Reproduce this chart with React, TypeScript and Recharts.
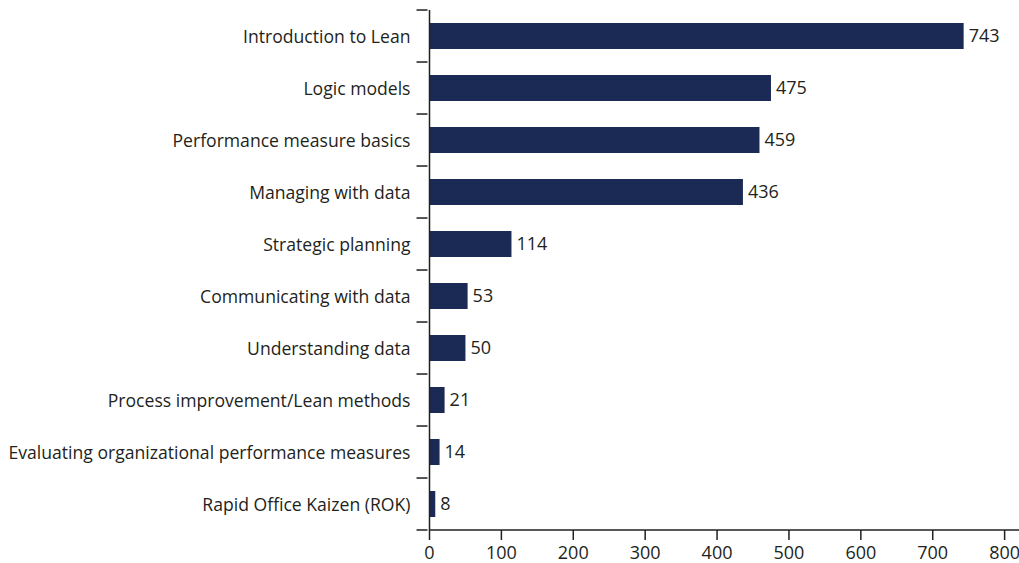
import React from "react";
import { BarChart, Bar, XAxis, YAxis, LabelList } from "recharts";

const categories = [
  "Introduction to Lean",
  "Logic models",
  "Performance measure basics",
  "Managing with data",
  "Strategic planning",
  "Communicating with data",
  "Understanding data",
  "Process improvement/Lean methods",
  "Evaluating organizational performance measures",
  "Rapid Office Kaizen (ROK)",
];
const values = [743, 475, 459, 436, 114, 53, 50, 21, 14, 8];
const xTicks = [0, 100, 200, 300, 400, 500, 600, 700, 800];

const data = categories.map((name, i) => ({ name, value: values[i] }));

const FONT = "'Open Sans', sans-serif";
const TEXT = "#231f20";
const BAR = "#1b2955";

const YTick = (props: any) => {
  const { x, y, payload, index, visibleTicksCount } = props;
  const band = 51.96;
  const axisX = x;
  const isLast = index === (visibleTicksCount ?? categories.length) - 1;
  return (
    <g>
      <line x1={axisX - 11} x2={axisX} y1={y - band / 2} y2={y - band / 2} stroke={TEXT} strokeWidth={1.5} />
      {isLast && (
        <line x1={axisX - 11} x2={axisX} y1={y + band / 2} y2={y + band / 2} stroke={TEXT} strokeWidth={1.5} />
      )}
      <text x={axisX - 17} y={y} dy={6.5} textAnchor="end" fill={TEXT} fontSize={17.6} fontFamily={FONT}>
        {payload.value}
      </text>
    </g>
  );
};

export default function App() {
  return (
    <div style={{ position: "absolute", left: 0, top: 0, width: 1019, height: 563, background: "#fff" }}>
      <BarChart
        width={1019}
        height={563}
        data={data}
        layout="vertical"
        margin={{ top: 10, right: 0, bottom: 0, left: 0 }}
        barCategoryGap="25%"
      >
        <XAxis
          type="number"
          domain={[0, 820]}
          ticks={xTicks}
          allowDataOverflow
          height={33}
          axisLine={{ stroke: TEXT, strokeWidth: 1.5 }}
          tickLine={{ stroke: TEXT, strokeWidth: 1.5 }}
          tickSize={10}
          tick={{ fill: TEXT, fontSize: 18, fontFamily: FONT }}
          tickMargin={6}
        />
        <YAxis
          type="category"
          dataKey="name"
          width={429.5}
          axisLine={{ stroke: TEXT, strokeWidth: 1.5 }}
          tickLine={false}
          tickSize={0}
          tick={<YTick />}
          interval={0}
        />
        <Bar dataKey="value" fill={BAR} isAnimationActive={false}>
          <LabelList
            dataKey="value"
            position="right"
            offset={5}
            fill={TEXT}
            fontSize={18}
            fontFamily={FONT}
          />
        </Bar>
      </BarChart>
    </div>
  );
}
